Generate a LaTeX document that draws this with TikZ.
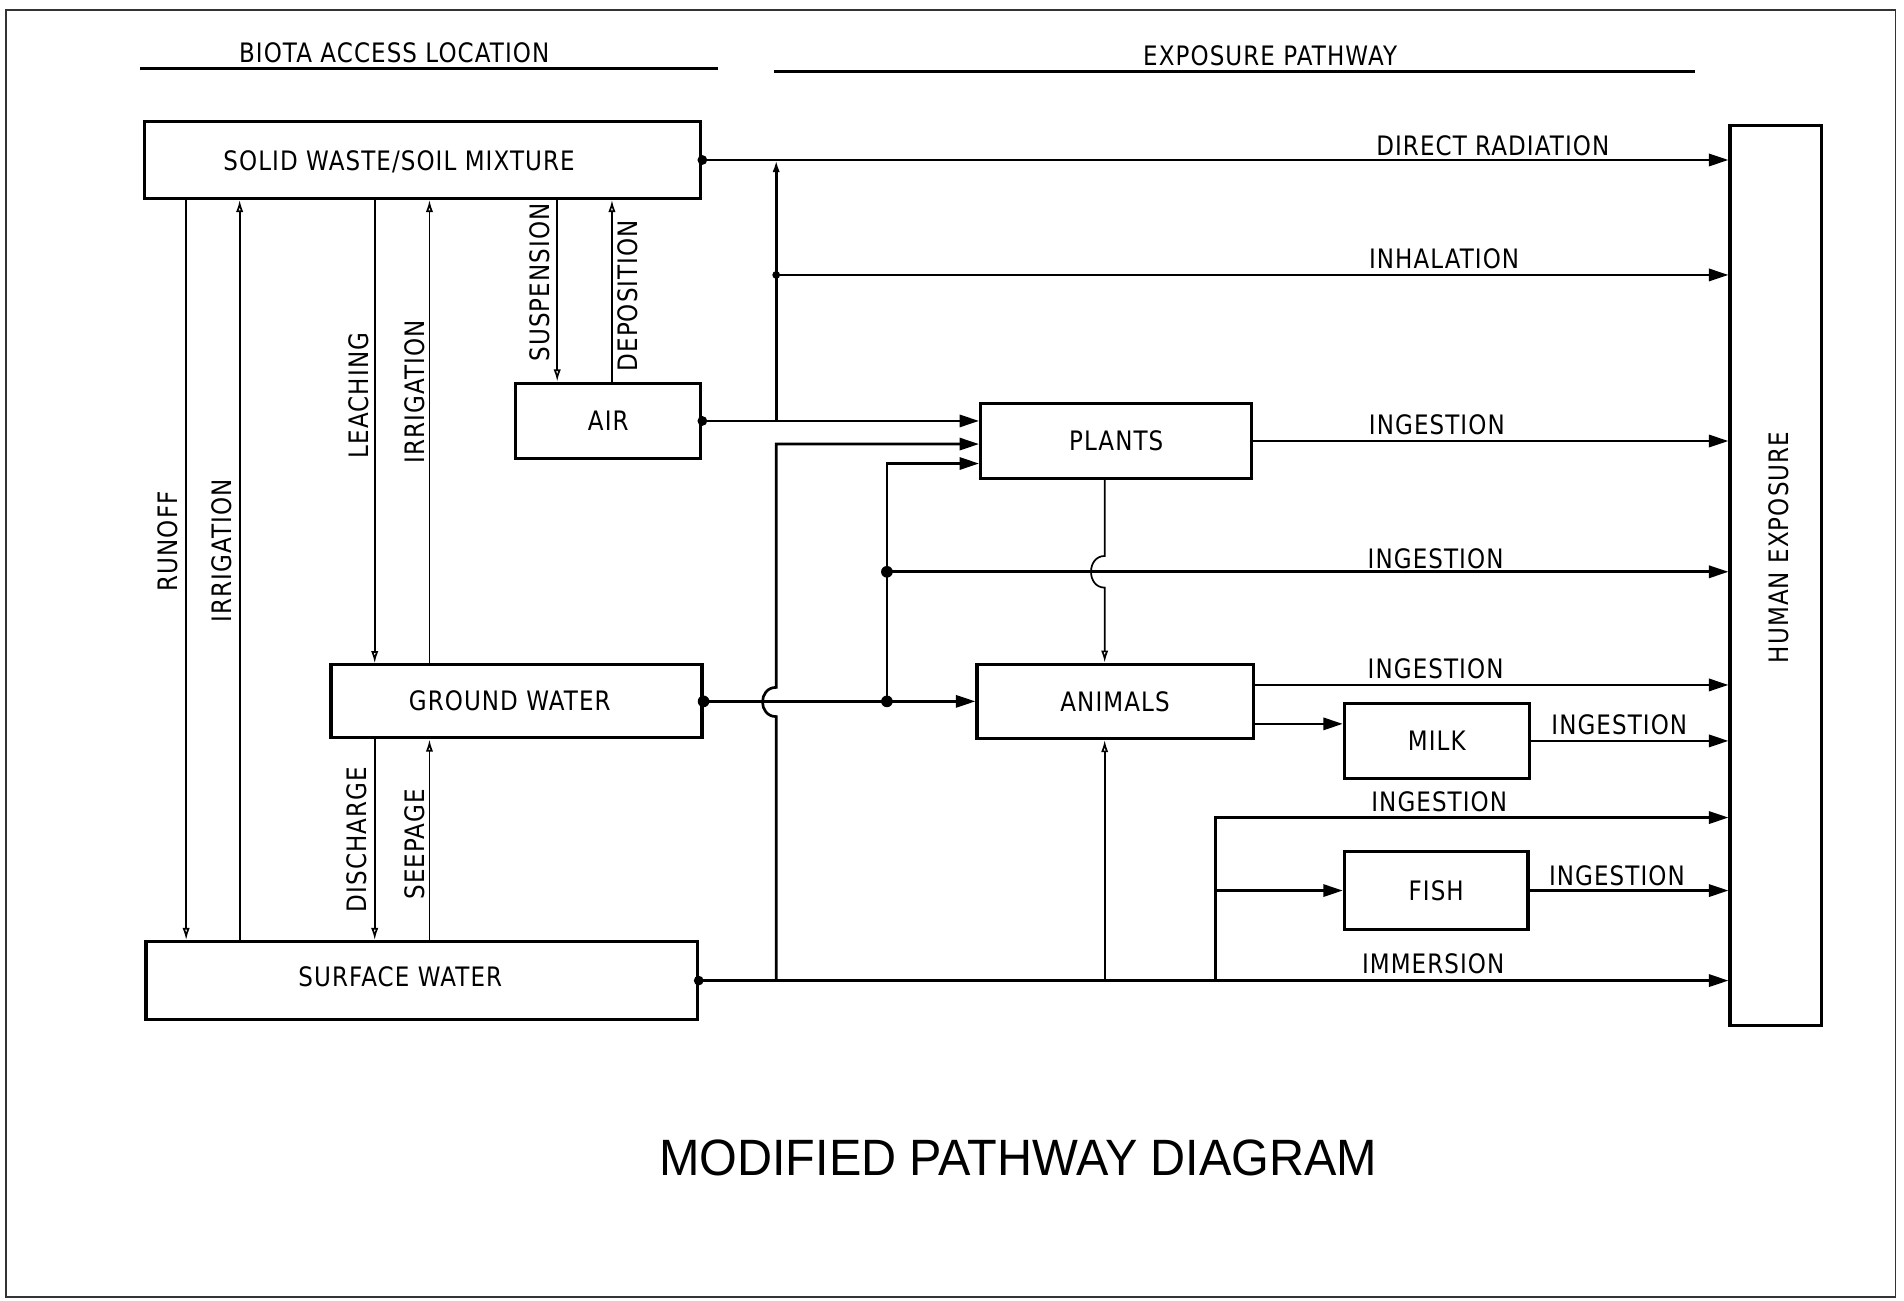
\documentclass[tikz,border=0pt]{standalone}
\usepackage{fontspec}
\setmainfont{Liberation Sans}
\newfontfamily\labfont[FakeStretch=0.86,LetterSpace=4]{DejaVu Sans}
\newfontfamily\titlefont[FakeStretch=0.95]{Liberation Sans}
\usetikzlibrary{arrows.meta}
\begin{document}
\begin{tikzpicture}[x=0.5pt,y=-0.5pt,
  box/.style={draw=black, line width=1.3pt, inner sep=0pt, font=\labfont\fontsize{11}{12}\selectfont},
  lab/.style={font=\labfont\fontsize{11}{12}\selectfont, inner sep=1pt},
  con/.style={line width=1.1pt},
  fine/.style={line width=0.7pt},
  harr/.style={con, -{Triangle[length=8pt,width=5pt]}},
  varr/.style={fine, -{Latex[length=5pt,width=3pt,open]}},
  dot/.style={fill=black}]
\useasboundingbox (0,0) rectangle (1565,1069);
% page frame
\draw[line width=0.7pt, black!80] (5,8) rectangle (1558,1066);

% headers
\node[lab] (hdrA) at (324,43) {BIOTA ACCESS LOCATION};
\draw[line width=1.2pt] (115,56) -- (590,56);
\node[lab] (hdrB) at (1044,46) {EXPOSURE PATHWAY};
\draw[line width=1.2pt] (636,59) -- (1393,59);

% boxes
\node[box, minimum width=228.5pt, minimum height=31.5pt] (sw) at (347.5,131.5) {};
\node[lab] (swt) at (328,133) {SOLID WASTE/SOIL MIXTURE};
\node[box, minimum width=76pt, minimum height=31pt] (air) at (500,346) {AIR};
\node[box, minimum width=152.5pt, minimum height=30pt] (gw) at (424.5,576.5) {};
\node[lab] (gwt) at (419,576) {GROUND WATER};
\node[box, minimum width=226.5pt, minimum height=32pt] (surf) at (346.5,806) {};
\node[lab] (surft) at (329,803) {SURFACE WATER};
\node[box, minimum width=111.5pt, minimum height=30.5pt] (plants) at (917.5,362.5) {PLANTS};
\node[box, minimum width=113.5pt, minimum height=30.5pt] (animals) at (916.5,576.5) {ANIMALS};
\node[box, minimum width=76pt, minimum height=31pt] (milk) at (1181,609) {MILK};
\node[box, minimum width=75.5pt, minimum height=32pt] (fish) at (1180.5,732) {FISH};
\node[box, minimum width=37.5pt, minimum height=370pt] (human) at (1459.5,473) {};
\node[lab, rotate=90] (humant) at (1462,450) {HUMAN EXPOSURE};

% column coordinates
\coordinate (v1) at (153,0);
\coordinate (v2) at (197,0);
\coordinate (v3) at (308,0);
\coordinate (v4) at (353,0);
\coordinate (v5) at (458,0);
\coordinate (v6) at (503,0);
\coordinate (cA) at (638,0);
\coordinate (cB) at (729,0);
\coordinate (cC) at (908,0);
\coordinate (cD) at (999,0);

% left vertical exchanges
\draw[varr] (sw.south -| v1) -- (surf.north -| v1);
\draw[varr] (surf.north -| v2) -- (sw.south -| v2);
\draw[varr] (sw.south -| v3) -- (gw.north -| v3);
\draw[varr] (gw.north -| v4) -- (sw.south -| v4);
\draw[varr] (sw.south -| v5) -- (air.north -| v5);
\draw[varr] (air.north -| v6) -- (sw.south -| v6);
\draw[varr] (gw.south -| v3) -- (surf.north -| v3);
\draw[varr] (surf.north -| v4) -- (gw.south -| v4);

\node[lab, rotate=90] (lRun) at (138,445) {RUNOFF};
\node[lab, rotate=90] (lIrr1) at (182,453) {IRRIGATION};
\node[lab, rotate=90] (lLea) at (295,325) {LEACHING};
\node[lab, rotate=90] (lIrr2) at (341,322) {IRRIGATION};
\node[lab, rotate=90] (lSus) at (444,232) {SUSPENSION};
\node[lab, rotate=90] (lDep) at (516,243) {DEPOSITION};
\node[lab, rotate=90] (lDis) at (293,690) {DISCHARGE};
\node[lab, rotate=90] (lSee) at (341,694) {SEEPAGE};

% direct radiation
\draw[harr] (sw.east) -- (sw.east -| human.west);
\fill[dot] (sw.east) circle[radius=2pt];
\node[lab] (lDir) at (1227,120) {DIRECT RADIATION};

% air
\draw[harr] (air.east) -- (air.east -| plants.west);
\fill[dot] (air.east) circle[radius=2pt];
\draw[con, -{Latex[length=5pt,width=3pt,open]}] (air.east -| cA) -- (sw.east -| cA);
\coordinate (inh) at (638,226);
\draw[harr] (inh) -- (inh -| human.west);
\fill[dot] (inh) circle[radius=1.6pt];
\node[lab] (lInh) at (1187,213) {INHALATION};

% plants out
\draw[harr] (plants.east) -- (plants.east -| human.west);
\node[lab] (lIng1) at (1181,349) {INGESTION};

% surface water to plants with hop over ground water line
\coordinate (hopAlo) at (638,589);
\coordinate (hopAhi) at (638,565);
\coordinate (p2) at (638,365);
\draw[harr] (surf.east -| cA) -- (hopAlo) .. controls +(-15,0) and +(-15,0) .. (hopAhi) -- (p2) -- (p2 -| plants.west);

% ground water
\draw[harr] (gw.east) -- (gw.east -| animals.west);
\fill[dot] (gw.east) circle[radius=2.4pt];
\coordinate (p3) at (729,381);
\coordinate (jB) at (729,470);
\draw[harr] (gw.east -| cB) -- (p3) -- (p3 -| plants.west);
\fill[dot] (gw.east -| cB) circle[radius=2.4pt];
\draw[harr] (jB) -- (jB -| human.west);
\fill[dot] (jB) circle[radius=2.4pt];
\node[lab] (lIng2) at (1180,459) {INGESTION};

% plants to animals with hop
\coordinate (hopChi) at (908,457);
\coordinate (hopClo) at (908,483);
\draw[varr] (plants.south -| cC) -- (hopChi) .. controls +(-15,0) and +(-15,0) .. (hopClo) -- (animals.north -| cC);

% animals out
\coordinate (ra1) at (0,563);
\coordinate (ra2) at (0,595);
\draw[harr] (animals.east |- ra1) -- (human.west |- ra1);
\node[lab] (lIng3) at (1180,550) {INGESTION};
\draw[harr] (animals.east |- ra2) -- (milk.west |- ra2);
\draw[harr] (milk.east) -- (milk.east -| human.west);
\node[lab] (lIng4) at (1331,596) {INGESTION};

% surface water branches
\draw[harr] (surf.east) -- (surf.east -| human.west);
\fill[dot] (surf.east) circle[radius=2pt];
\node[lab] (lImm) at (1178,792) {IMMERSION};
\draw[varr] (surf.east -| cC) -- (animals.south -| cC);
\coordinate (d1) at (999,672);
\draw[harr] (surf.east -| cD) -- (d1) -- (d1 -| human.west);
\node[lab] (lIng5) at (1183,659) {INGESTION};
\draw[harr] (fish.west -| cD) -- (fish.west);
\draw[harr] (fish.east) -- (fish.east -| human.west);
\node[lab] (lIng6) at (1329,720) {INGESTION};

% title
\node[font=\titlefont\fontsize{21}{24}\selectfont, inner sep=0pt] (title) at (837,952) {MODIFIED PATHWAY DIAGRAM};
\end{tikzpicture}
\end{document}
